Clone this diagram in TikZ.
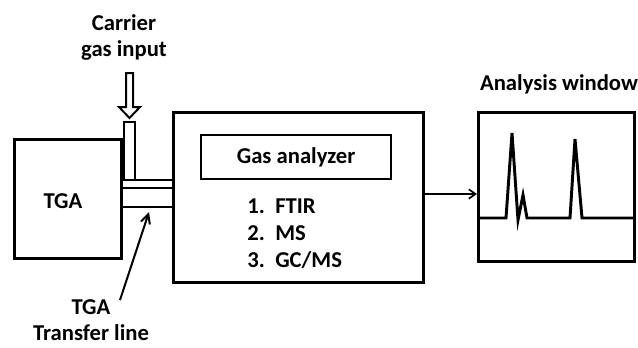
\documentclass[tikz,border=0pt]{standalone}
\usepackage{fontspec}
\setmainfont{Carlito}
\usetikzlibrary{arrows.meta, positioning}
\tikzset{
  frame/.style={draw, line width=2.2pt, inner sep=0pt, anchor=north west},
  txt/.style={font=\bfseries\fontsize{17}{19.5}\selectfont, align=center},
  trace/.style={line width=2.2pt, line join=miter},
}

\begin{document}
\begin{tikzpicture}[x=0.75pt, y=-0.75pt]
  \useasboundingbox (0,0) rectangle (638,347);
  \node[frame, minimum width=107*0.75pt, minimum height=119*0.75pt] (tga) at (13,138) {};
  \node[txt] (tgatext) at (63,201) {TGA};
  \node[frame, minimum width=250*0.75pt, minimum height=170*0.75pt] (analyzer) at (172,111) {};
  \node[frame, line width=1.7pt, minimum width=190*0.75pt, minimum height=44*0.75pt,
        txt] (inner) at (200,134) {Gas analyzer};
  \foreach \n/\m [count=\i] in {1/FTIR, 2/MS, 3/{GC/MS}}
    \node[txt, anchor=base west, inner sep=0pt] (method\i) at (247,186+27*\i)
          {\makebox[21pt][l]{\n.}\m};
  \node[frame, minimum width=156*0.75pt, minimum height=149*0.75pt] (window) at (477,111) {};
  \node[txt, anchor=south] (wintitle) at (559,99) {Analysis window};
        % transfer line and carrier tube
        \draw[line width=2.2pt] (tga.east |- 0,180) -- (analyzer.west |- 0,180);
        \draw[line width=2.2pt] (tga.east |- 0,188) -- (analyzer.west |- 0,188);
        \draw[line width=2.2pt] (tga.east |- 0,207) -- (analyzer.west |- 0,207);
        \draw[line width=2.2pt] (124,180) -- (124,122) -- (135,122) -- (135,180);
        \node[txt] (carrier) at (124,37) {Carrier\\gas input};
        \draw[line width=1.5pt, line join=miter] (126,73) -- (133,73) -- (133,107) -- (140,107)
              -- (129.5,118) -- (119,107) -- (126,107) -- cycle;
        \node[txt, inner sep=0pt] (tlabel) at (91,320) {TGA\\Transfer line};
        \coordinate (tlstart) at (120,300);
        \coordinate (tltip) at (149,212);
        \draw[line width=1.5pt, -{Straight Barb[length=7pt, width=7pt]}] (tlstart) -- (tltip);
        \draw[line width=1.3pt, -{Straight Barb[length=5pt, width=7pt]}] (analyzer.east |- 0,194) -- (window.west |- 0,194);
        \draw[trace] (window.west |- 0,218) -- (506,218) -- (512,133) -- (518,220) -- (523,195)
              -- (527,218) -- (570,218) -- (575,139) -- (582,218) -- (window.east |- 0,218);
\end{tikzpicture}
\end{document}
